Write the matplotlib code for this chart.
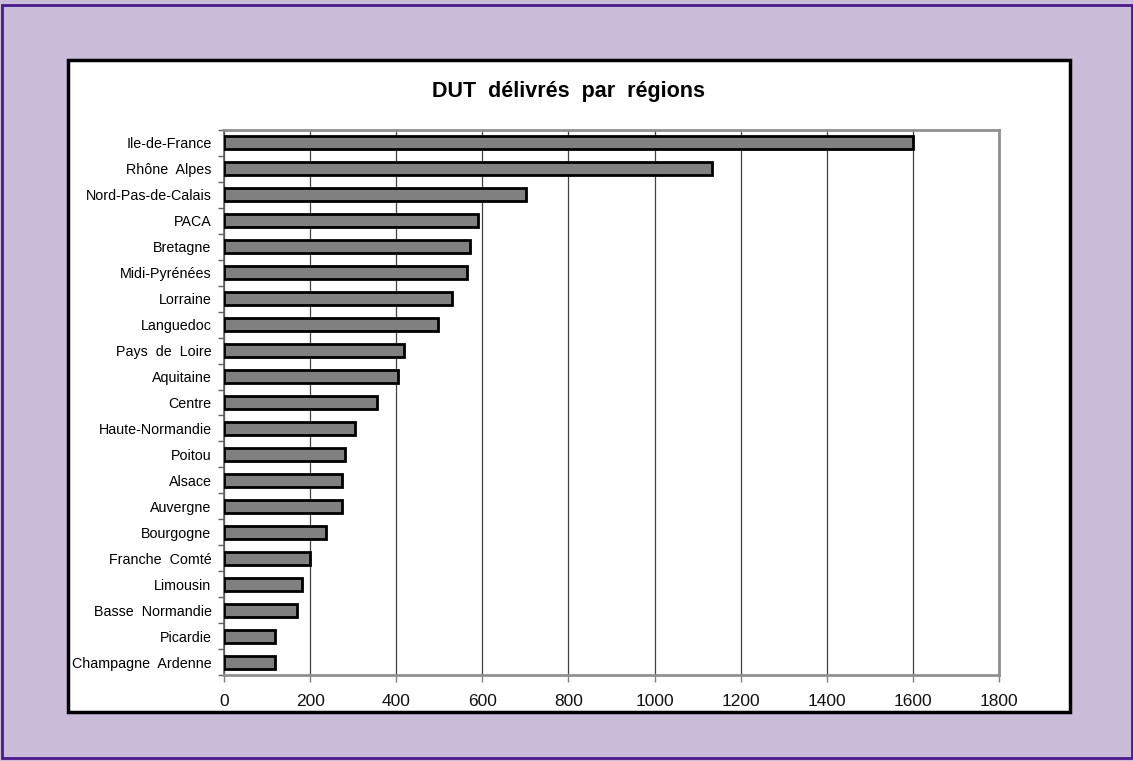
import numpy as np
import matplotlib.pyplot as plt
from matplotlib.patches import Rectangle

plt.rcParams['font.family'] = ['Liberation Sans', 'DejaVu Sans']

regions = ['Ile-de-France', 'Rhône  Alpes', 'Nord-Pas-de-Calais', 'PACA', 'Bretagne',
           'Midi-Pyrénées', 'Lorraine', 'Languedoc', 'Pays  de  Loire', 'Aquitaine',
           'Centre', 'Haute-Normandie', 'Poitou', 'Alsace', 'Auvergne', 'Bourgogne',
           'Franche  Comté', 'Limousin', 'Basse  Normandie', 'Picardie',
           'Champagne  Ardenne']
dut = [1600, 1133, 701, 590, 571, 565, 529, 496, 417, 405,
       355, 305, 281, 275, 275, 237, 200, 181, 169, 119, 119]
xticks = [0, 200, 400, 600, 800, 1000, 1200, 1400, 1600, 1800]

W, H = 1133, 761
fig = plt.figure(figsize=(W / 100, H / 100), dpi=100)
fig.patch.set_facecolor('#cbbcda')

# outer purple frame
fig.patches.append(Rectangle((2 / W, 3 / H), (W - 3) / W, (H - 8) / H,
                             transform=fig.transFigure, fill=False,
                             edgecolor='#4b1a8a', linewidth=2, zorder=0))
# white chart area
fig.patches.append(Rectangle((68 / W, 1 - 712 / H), (1070 - 68) / W, (712 - 60) / H,
                             transform=fig.transFigure, facecolor='white',
                             edgecolor='black', linewidth=2.5, zorder=0))

ax = fig.add_axes([224 / W, 1 - 675 / H, (999 - 224) / W, (675 - 130) / H])
ax.set_zorder(5)
ax.set_facecolor('white')

y = np.arange(len(regions))
ax.barh(y, dut, height=0.5, color='#808080', edgecolor='black', linewidth=2, zorder=3)

ax.set_xlim(0, 1800)
ax.set_ylim(len(regions) - 0.5, -0.5)

ax.set_xticks(xticks)
ax.set_xticklabels([str(v) for v in xticks], fontsize=12.5, color='#111111')
ax.tick_params(axis='x', length=5, width=1, color='#808080', pad=9)

ax.set_yticks(y)
ax.set_yticklabels(regions, fontsize=10.3)
ax.set_yticks(np.arange(-0.5, len(regions), 1), minor=True)
ax.tick_params(axis='y', which='major', length=0, pad=9)
ax.tick_params(axis='y', which='minor', length=4, width=1, color='#606060')

ax.grid(axis='x', color='#404040', linewidth=0.9, zorder=1)

for s in ax.spines.values():
    s.set_color('#909090')
    s.set_linewidth(2)
ax.spines['left'].set_color('#606060')
ax.spines['left'].set_linewidth(1.2)

fig.text(568 / W, 1 - 92 / H, 'DUT  délivrés  par  régions', ha='center', va='center',
         fontsize=15.5, fontweight='bold')

fig.savefig('out.png', dpi=100, facecolor=fig.get_facecolor())
